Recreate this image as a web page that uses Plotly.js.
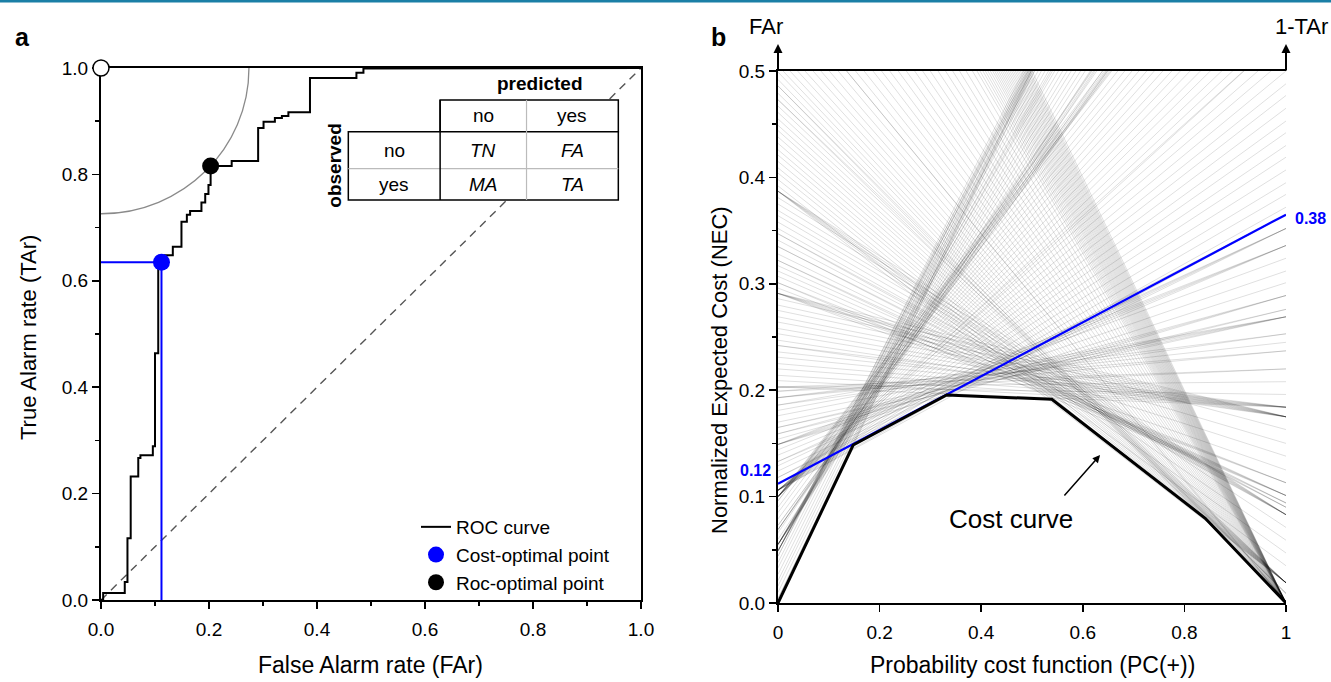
<!DOCTYPE html>
<html>
<head>
<meta charset="utf-8">
<script src="https://cdn.plot.ly/plotly-3.0.1.min.js"></script>
<style>
  html, body { margin: 0; padding: 0; background: #fff; }
  #chart { width: 1331px; height: 682px; }
</style>
</head>
<body>
<div id="chart"></div>
<script>
// ROC threshold points [FAr, TAr] (and the line fans of panel b)
const rocPoints = [
  [0,0],[0.004,0],[0.004,0.013],
  [0.010,0.013],[0.016,0.013],[0.021,0.013],[0.027,0.013],[0.033,0.013],[0.038,0.013],[0.044,0.013],
  [0.044,0.034],[0.049,0.034],
  [0.049,0.046],[0.049,0.058],[0.049,0.070],[0.049,0.081],[0.049,0.093],[0.049,0.104],[0.049,0.116],
  [0.055,0.116],
  [0.055,0.128],[0.055,0.139],[0.055,0.151],[0.055,0.163],[0.055,0.174],[0.055,0.186],[0.055,0.198],[0.055,0.209],[0.055,0.221],[0.055,0.232],
  [0.060,0.232],[0.066,0.232],[0.069,0.232],
  [0.069,0.244],[0.069,0.256],[0.069,0.267],
  [0.073,0.267],[0.073,0.272],
  [0.079,0.272],[0.085,0.272],[0.090,0.272],[0.096,0.272],
  [0.096,0.289],[0.100,0.289],
  [0.100,0.302],[0.100,0.314],[0.100,0.326],[0.100,0.337],[0.100,0.349],[0.100,0.360],[0.100,0.372],[0.100,0.384],[0.100,0.395],[0.100,0.407],[0.100,0.419],[0.100,0.430],[0.100,0.442],[0.100,0.453],[0.100,0.464],
  [0.106,0.464],
  [0.106,0.477],[0.106,0.488],[0.106,0.500],[0.106,0.512],[0.106,0.523],[0.106,0.535],[0.106,0.547],[0.106,0.558],[0.106,0.570],[0.106,0.581],[0.106,0.593],[0.106,0.605],[0.106,0.616],[0.106,0.628],[0.106,0.635],
  [0.112,0.635],[0.118,0.635],
  [0.118,0.648],[0.124,0.648],[0.129,0.648],[0.133,0.648],
  [0.133,0.664],[0.139,0.664],[0.144,0.664],[0.149,0.664],
  [0.149,0.676],[0.149,0.688],[0.149,0.699],[0.149,0.711],
  [0.154,0.711],[0.159,0.711],[0.159,0.724],[0.165,0.724],[0.165,0.731],
  [0.170,0.731],[0.176,0.731],[0.181,0.731],[0.186,0.731],
  [0.186,0.747],[0.193,0.747],[0.193,0.755],[0.193,0.763],[0.199,0.763],[0.199,0.780],[0.203,0.780],
  [0.203,0.792],[0.203,0.804],[0.203,0.816],
  [0.209,0.816],[0.214,0.816],[0.220,0.816],[0.225,0.816],[0.231,0.816],[0.236,0.816],[0.242,0.816],
  [0.242,0.825],
  [0.247,0.825],[0.253,0.825],[0.258,0.825],[0.264,0.825],[0.269,0.825],[0.275,0.825],[0.280,0.825],[0.286,0.825],[0.291,0.825],
  [0.291,0.837],[0.291,0.850],[0.291,0.862],[0.291,0.875],[0.291,0.887],
  [0.296,0.887],[0.301,0.887],[0.301,0.899],
  [0.307,0.899],[0.312,0.899],[0.317,0.899],[0.322,0.899],
  [0.322,0.906],[0.328,0.906],[0.335,0.906],[0.335,0.910],[0.341,0.910],[0.347,0.910],[0.347,0.917],
  [0.352,0.917],[0.358,0.917],[0.364,0.917],[0.369,0.917],[0.375,0.917],[0.381,0.917],[0.387,0.917],
  [0.387,0.929],[0.387,0.941],[0.387,0.953],[0.387,0.965],[0.387,0.981],
  [0.392,0.981],[0.398,0.981],[0.404,0.981],[0.409,0.981],[0.415,0.981],[0.421,0.981],[0.426,0.981],[0.432,0.981],[0.438,0.981],[0.444,0.981],[0.449,0.981],[0.455,0.981],[0.461,0.981],[0.467,0.981],[0.473,0.981],
  [0.473,0.991],[0.479,0.991],[0.486,0.991],[0.486,0.999],
  [0.492,0.999],[0.499,0.999],[0.505,0.999],[0.512,0.999],[0.520,0.999],[0.528,0.999],[0.537,0.999],[0.546,0.999],[0.556,0.999],[0.567,0.999],[0.578,0.999],
  [0.578,1],[0.590,1],[0.602,1],[0.615,1],[0.628,1],[0.641,1],[0.655,1],[0.669,1],[0.684,1],[0.699,1],[0.714,1],[0.730,1],[0.746,1],[0.762,1],[0.778,1],[0.794,1],[0.810,1],
  [0.822,1],[0.830,1],[0.838,1],[0.845,1],[0.852,1],[0.859,1],[0.866,1],[0.872,1],[0.878,1],[0.884,1],[0.890,1],[0.896,1],[0.902,1],[0.908,1],[0.914,1],[0.920,1],[0.926,1],[0.932,1],[0.938,1],[0.944,1],[0.950,1],[0.956,1],[0.962,1],[0.968,1],[0.974,1],[0.980,1],[0.986,1],[0.992,1],[1,1]
];

const costOptimal = { far: [0.112], tar: [0.635] };
const rocOptimal  = { far: [0.203], tar: [0.816] };
const perfectPoint = { far: [0], tar: [1] };
const chanceLine = { far: [0, 1], tar: [0, 1] };

// Cost curve (lower envelope)
const costX = [0, 0.148, 0.332, 0.539, 0.841, 1];
const costY = [0, 0.1485, 0.1955, 0.1914, 0.0796, 0];

const blueLabels = { left: '0.12', right: '0.38' };

const FONT = '"Liberation Sans", Arial, Helvetica, sans-serif';
const BLUE = '#0000ff';

// ---- derived traces ----
const rocX = rocPoints.map(p => p[0]);
const rocY = rocPoints.map(p => p[1]);

const costLinesX = [], costLinesY = [];
rocPoints.forEach(p => { costLinesX.push(0, 1, null); costLinesY.push(p[0], 1 - p[1], null); });

const traces = [
  { x: chanceLine.far, y: chanceLine.tar, mode: 'lines', xaxis: 'x', yaxis: 'y',
    line: { color: '#555', width: 1.4, dash: '8px,6px' }, showlegend: false, hoverinfo: 'skip' },
  { x: rocX, y: rocY, mode: 'lines', name: 'ROC curve', xaxis: 'x', yaxis: 'y',
    line: { color: '#000', width: 2 } },
  { x: [0, costOptimal.far[0], costOptimal.far[0]], y: [costOptimal.tar[0], costOptimal.tar[0], 0],
    mode: 'lines', xaxis: 'x', yaxis: 'y', line: { color: BLUE, width: 2 }, showlegend: false, hoverinfo: 'skip' },
  { x: costOptimal.far, y: costOptimal.tar, mode: 'markers', name: 'Cost-optimal point', xaxis: 'x', yaxis: 'y',
    marker: { color: BLUE, size: 17 }, cliponaxis: false },
  { x: rocOptimal.far, y: rocOptimal.tar, mode: 'markers', name: 'Roc-optimal point', xaxis: 'x', yaxis: 'y',
    marker: { color: '#000', size: 17 }, cliponaxis: false },
  { x: perfectPoint.far, y: perfectPoint.tar, mode: 'markers', xaxis: 'x', yaxis: 'y', showlegend: false,
    marker: { color: '#fff', size: 16, line: { color: '#000', width: 1.5 } }, cliponaxis: false },
  // panel b
  { x: costLinesX, y: costLinesY, mode: 'lines', xaxis: 'x2', yaxis: 'y2', showlegend: false, hoverinfo: 'skip',
    line: { color: 'rgba(0,0,0,0.16)', width: 0.8 } },
  { x: [0, 1], y: [costOptimal.far[0], 1 - costOptimal.tar[0]], mode: 'lines', xaxis: 'x2', yaxis: 'y2',
    showlegend: false, line: { color: BLUE, width: 2.2 } },
  { x: costX, y: costY, mode: 'lines', xaxis: 'x2', yaxis: 'y2', showlegend: false,
    line: { color: '#000', width: 3 } }
];

const r = Math.hypot(rocOptimal.far[0], 1 - rocOptimal.tar[0]);
const k = 0.5523;
const arcPath = `M 0,${1 - r} C ${k * r},${1 - r} ${r},${1 - k * r} ${r},1`;

// table geometry (data coords of panel a)
const T = { xl: 0.458, xm: 0.628, xg: 0.788, xr: 0.958, yb: 0.752, yg: 0.811, ym: 0.880, yt: 0.940 };

const shapes = [
  { type: 'rect', xref: 'paper', yref: 'paper', x0: 0, x1: 1, y0: 1 - 2.5 / 682, y1: 1,
    fillcolor: '#1a7fa6', line: { width: 0 } },
  { type: 'path', xref: 'x', yref: 'y', path: arcPath, line: { color: '#8a8a8a', width: 1.3 }, layer: 'below' },
  { type: 'rect', xref: 'x', yref: 'y', x0: T.xm, x1: T.xr, y0: T.ym, y1: T.yt, fillcolor: '#fff',
    line: { color: '#000', width: 1.5 }, layer: 'above' },
  { type: 'rect', xref: 'x', yref: 'y', x0: T.xl, x1: T.xr, y0: T.yb, y1: T.ym, fillcolor: '#fff',
    line: { color: '#000', width: 1.5 }, layer: 'above' },
  { type: 'line', xref: 'x', yref: 'y', x0: T.xg, x1: T.xg, y0: T.yb, y1: T.yt, line: { color: '#bbb', width: 1.2 }, layer: 'above' },
  { type: 'line', xref: 'x', yref: 'y', x0: T.xl, x1: T.xr, y0: T.yg, y1: T.yg, line: { color: '#bbb', width: 1.2 }, layer: 'above' },
  { type: 'line', xref: 'x', yref: 'y', x0: T.xm, x1: T.xm, y0: T.yb, y1: T.yt, line: { color: '#000', width: 1.5 }, layer: 'above' }
];

function txt(text, x, y, opts) {
  return Object.assign({ text, x, y, xref: 'paper', yref: 'paper', showarrow: false,
    font: { family: FONT, size: 22, color: '#000' }, xanchor: 'center', yanchor: 'middle' }, opts || {});
}
const W = 1331, H = 682;
const px = v => v / W, py = v => 1 - v / H;

const cellFont = { family: FONT, size: 19, color: '#000' };
const annotations = [
  txt('<b>a</b>', px(22), py(37), { font: { family: FONT, size: 25, color: '#000' } }),
  txt('<b>b</b>', px(718), py(37), { font: { family: FONT, size: 25, color: '#000' } }),
  txt('False Alarm rate (FAr)', px(371), py(665), { font: { family: FONT, size: 23, color: '#000' } }),
  txt('True Alarm rate (TAr)', px(28), py(338), { textangle: -90 }),
  txt('Probability cost function (PC(+))', px(1032), py(665), { font: { family: FONT, size: 23, color: '#000' } }),
  txt('Normalized Expected Cost (NEC)', px(719), py(370), { textangle: -90 }),
  txt('FAr', px(766), py(27)),
  txt('1-TAr', px(1330), py(27), { xanchor: 'right' }),
  txt('<b>' + blueLabels.left + '</b>', px(773), py(470), { xanchor: 'right', font: { family: FONT, size: 16, color: BLUE } }),
  txt('<b>' + blueLabels.right + '</b>', px(1293), py(219), { xanchor: 'left', font: { family: FONT, size: 16, color: BLUE } }),
  // axis arrows of panel b
  { text: '', xref: 'paper', yref: 'paper', x: px(778), y: py(44), ax: 0, ay: 28, showarrow: true,
    arrowhead: 2, arrowsize: 0.9, arrowwidth: 2, arrowcolor: '#000', standoff: 0, startstandoff: 0 },
  { text: '', xref: 'paper', yref: 'paper', x: px(1286), y: py(44), ax: 0, ay: 28, showarrow: true,
    arrowhead: 2, arrowsize: 0.9, arrowwidth: 2, arrowcolor: '#000', standoff: 0, startstandoff: 0 },
  // cost curve label and arrow
  { text: '', xref: 'x2', yref: 'y2', x: 0.634, y: 0.139, ax: -37, ay: 42, showarrow: true,
    arrowhead: 2, arrowsize: 1, arrowwidth: 1.5, arrowcolor: '#000', standoff: 0 },
  txt('Cost curve', px(1011), py(519), { font: { family: FONT, size: 26, color: '#000' } }),
  // table texts
  { text: '<b>predicted</b>', xref: 'x', yref: 'y', x: 0.813, y: 0.970, showarrow: false, font: cellFont },
  { text: '<b>observed</b>', xref: 'x', yref: 'y', x: 0.433, y: 0.816, showarrow: false, font: cellFont, textangle: -90 },
  { text: 'no', xref: 'x', yref: 'y', x: 0.708, y: 0.910, showarrow: false, font: cellFont },
  { text: 'yes', xref: 'x', yref: 'y', x: 0.873, y: 0.910, showarrow: false, font: cellFont },
  { text: 'no', xref: 'x', yref: 'y', x: 0.543, y: 0.845, showarrow: false, font: cellFont },
  { text: 'yes', xref: 'x', yref: 'y', x: 0.543, y: 0.781, showarrow: false, font: cellFont },
  { text: '<i>TN</i>', xref: 'x', yref: 'y', x: 0.708, y: 0.845, showarrow: false, font: cellFont },
  { text: '<i>FA</i>', xref: 'x', yref: 'y', x: 0.873, y: 0.845, showarrow: false, font: cellFont },
  { text: '<i>MA</i>', xref: 'x', yref: 'y', x: 0.708, y: 0.781, showarrow: false, font: cellFont },
  { text: '<i>TA</i>', xref: 'x', yref: 'y', x: 0.873, y: 0.781, showarrow: false, font: cellFont }
];

const tickFont = { family: FONT, size: 19, color: '#000' };
const baseAxis = {
  showline: true, linecolor: '#000', linewidth: 2, showgrid: false, zeroline: false, layer: 'below traces',
  ticks: 'outside', ticklen: 7, tickwidth: 1.5, tickcolor: '#000', tickfont: tickFont, fixedrange: true
};
const minorTicks = d => ({ dtick: d, ticks: 'outside', ticklen: 4, tickwidth: 1.5, tickcolor: '#000', showgrid: false });

const layout = {
  width: W, height: H, margin: { l: 0, r: 0, t: 0, b: 0 },
  paper_bgcolor: '#fff', plot_bgcolor: 'rgba(0,0,0,0)',
  font: { family: FONT, color: '#000' },
  xaxis: Object.assign({}, baseAxis, { domain: [101 / W, 641 / W], range: [0, 1], anchor: 'y', mirror: true,
    tick0: 0, dtick: 0.2, tickformat: '.1f', ticklabelstandoff: 4, minor: minorTicks(0.1) }),
  yaxis: Object.assign({}, baseAxis, { domain: [1 - 600 / H, 1 - 68 / H], range: [0, 1], anchor: 'x', mirror: true,
    tick0: 0, dtick: 0.2, tickformat: '.1f', minor: minorTicks(0.1) }),
  xaxis2: Object.assign({}, baseAxis, { domain: [778 / W, 1286 / W], range: [0, 1], anchor: 'y2', mirror: true,
    tick0: 0, dtick: 0.2, ticklabelstandoff: 4 }),
  yaxis2: Object.assign({}, baseAxis, { domain: [1 - 603 / H, 1 - 71 / H], range: [0, 0.5], anchor: 'x2',
    tick0: 0, dtick: 0.1, tickformat: '.1f', minor: minorTicks(0.05) }),
  yaxis3: Object.assign({}, baseAxis, { overlaying: 'y2', side: 'right', anchor: 'x2', range: [0, 0.5],
    tick0: 0, dtick: 0.1, tickformat: '.1f' }),
  showlegend: true,
  legend: { x: 416 / W, y: py(508), xanchor: 'left', yanchor: 'top', bgcolor: 'rgba(0,0,0,0)',
    font: { family: FONT, size: 19, color: '#000' }, tracegroupgap: 0 },
  shapes, annotations
};

Plotly.newPlot('chart', traces, layout, { displayModeBar: false, staticPlot: true });
</script>
</body>
</html>
